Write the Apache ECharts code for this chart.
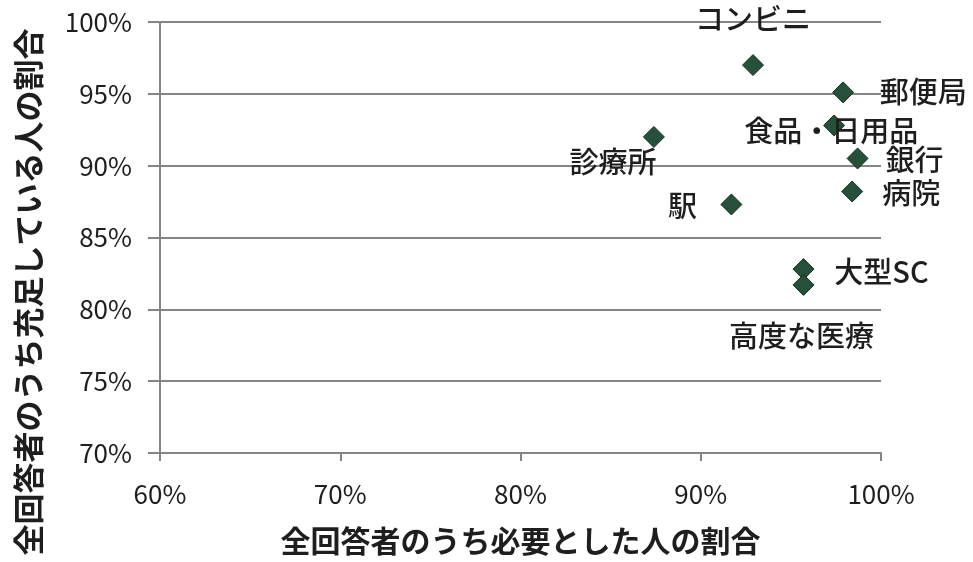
<!DOCTYPE html>
<html>
<head>
<meta charset="utf-8">
<script src="https://cdn.jsdelivr.net/npm/echarts@6/dist/echarts.min.js"></script>
<style>
  html, body { margin: 0; padding: 0; background: #fff; }
  #chart { width: 973px; height: 562px; }
</style>
</head>
<body>
<div id="chart"></div>
<script>
// Facility names
const facilities = ['コンビニ', '郵便局', '食品・日用品', '診療所', '銀行', '病院', '駅', '大型SC', '高度な医療'];
// Share of all respondents who said they need the facility (%)
const needShare = [92.9, 97.9, 97.4, 87.4, 98.7, 98.4, 91.7, 95.7, 95.7];
// Share of all respondents who feel it is sufficiently provided (%)
const satisfiedShare = [97.0, 95.1, 92.8, 92.0, 90.5, 88.2, 87.3, 82.8, 81.7];

const xTicks = { min: 60, max: 100, step: 10 };
const yTicks = { min: 70, max: 100, step: 5 };

// Where each name sits relative to its marker (pixels)
const labelOffsets = {
  'コンビニ': [0, -46],
  '郵便局': [80, 0],
  '食品・日用品': [-3, 6],
  '診療所': [-41, 25],
  '銀行': [57, 2],
  '病院': [59, 1],
  '駅': [-49, 2],
  '大型SC': [78, 3],
  '高度な医療': [-2, 51]
};

const FONT = '"Noto Sans CJK JP", "Noto Sans", sans-serif';
const AXIS_GRAY = '#858585';
const TEXT = '#1e1e1e';

const points = facilities.map((name, i) => ({
  name: name,
  value: [needShare[i], satisfiedShare[i]],
  label: { offset: labelOffsets[name] }
}));

const chart = echarts.init(document.getElementById('chart'), null, { renderer: 'canvas' });
chart.setOption({
  animation: false,
  backgroundColor: '#ffffff',
  grid: { left: 160, right: 92, top: 22, bottom: 109, containLabel: false },
  xAxis: {
    type: 'value',
    min: xTicks.min, max: xTicks.max, interval: xTicks.step,
    axisLine: { show: true, lineStyle: { color: AXIS_GRAY, width: 2 } },
    axisTick: { show: true, inside: false, length: 8, lineStyle: { color: AXIS_GRAY, width: 2 } },
    splitLine: { show: false },
    axisLabel: { formatter: '{value}%', fontFamily: FONT, fontSize: 26, color: TEXT, margin: 28 },
    name: '全回答者のうち必要とした人の割合',
    nameLocation: 'middle',
    nameGap: 73,
    nameTextStyle: { fontFamily: FONT, fontSize: 30, fontWeight: 'bold', color: TEXT }
  },
  yAxis: {
    type: 'value',
    min: yTicks.min, max: yTicks.max, interval: yTicks.step,
    axisLine: { show: true, lineStyle: { color: AXIS_GRAY, width: 2 } },
    axisTick: { show: true, inside: false, length: 12, lineStyle: { color: AXIS_GRAY, width: 2 } },
    splitLine: { show: true, lineStyle: { color: AXIS_GRAY, width: 2 } },
    axisLabel: { formatter: '{value}%', fontFamily: FONT, fontSize: 26, color: TEXT, margin: 28 }
  },
  graphic: [{
    type: 'text',
    x: 28, y: 292,
    rotation: Math.PI / 2,
    style: {
      text: '全回答者のうち充足している人の割合',
      fontFamily: FONT, fontSize: 31, fontWeight: 'bold', fill: TEXT,
      align: 'center', verticalAlign: 'middle'
    }
  }],
  series: [{
    type: 'scatter',
    symbol: 'diamond',
    symbolSize: [21, 21],
    itemStyle: { color: '#27503a', borderColor: '#16301f', borderWidth: 1, opacity: 1 },
    label: {
      show: true,
      position: 'inside',
      formatter: '{b}',
      fontFamily: FONT, fontSize: 29, fontWeight: 500, color: TEXT
    },
    data: points,
    z: 3
  }]
});
</script>
</body>
</html>
